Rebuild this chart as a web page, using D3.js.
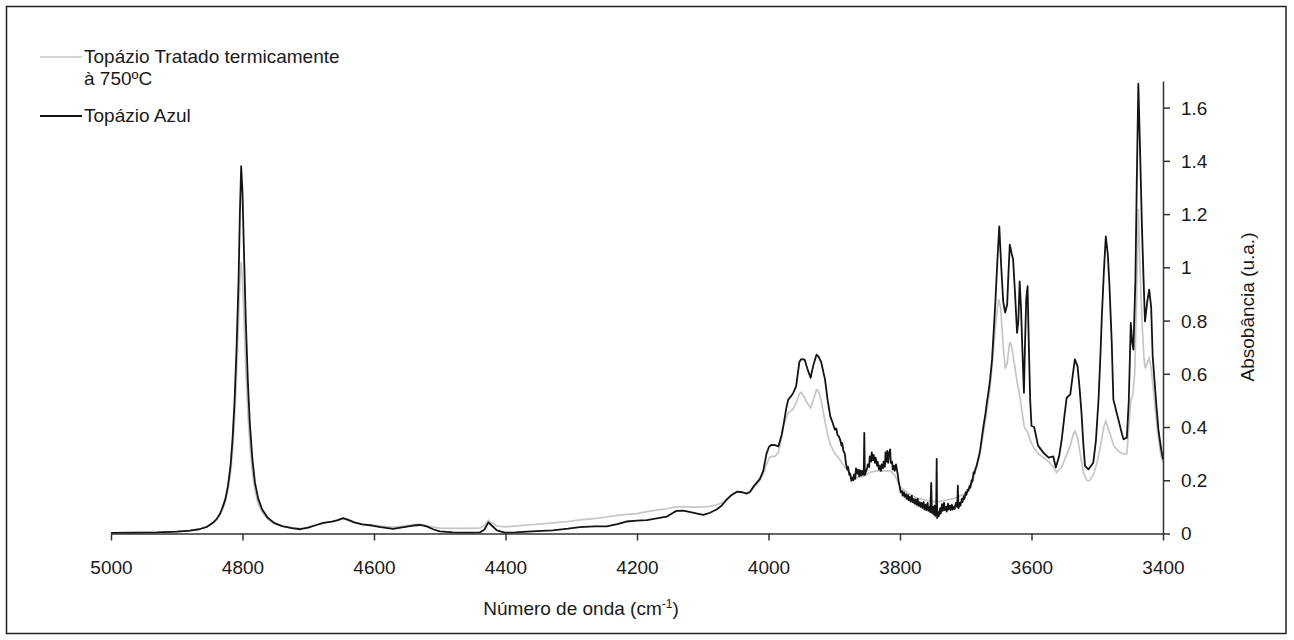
<!DOCTYPE html>
<html>
<head>
	<title>Topázio FTIR</title>
	<meta charset="utf-8">
	<script src="https://cdnjs.cloudflare.com/ajax/libs/d3/7.8.5/d3.min.js"></script>
	<style>
		body { margin: 0; background: #fff; }
		svg text { font-family: "Liberation Sans", Arial, sans-serif; fill: #1a1a1a; }
		.axis path, .axis line { stroke: #333; stroke-width: 1.5px; }
		.axis text { font-size: 19px; }
	</style>
</head>
<body>
	<div id="chartDiv"></div>
	<script>

		const xTicks = [5000, 4800, 4600, 4400, 4200, 4000, 3800, 3600, 3400];
		const yTicks = [0, 0.2, 0.4, 0.6, 0.8, 1, 1.2, 1.4, 1.6];

		const seriesNames = ['Topázio Tratado termicamente', 'Topázio Azul'];

		// [wavenumber, absorbance]
		const azul = [
			[5000,0.002],[4960,0.003],[4930,0.004],[4900,0.007],[4880,0.011],[4866,0.016],[4854,0.025],[4845,0.04],
			[4839,0.055],[4834,0.075],[4830,0.1],[4826,0.13],[4822,0.18],[4818,0.26],[4815,0.36],[4812,0.5],
			[4809,0.7],[4806,0.95],[4804,1.2],[4802,1.38],[4800,1.28],[4798,1.08],[4795,0.8],[4792,0.58],
			[4789,0.42],[4785,0.28],[4781,0.19],[4776,0.13],[4770,0.09],[4762,0.06],[4752,0.04],[4740,0.028],
			[4725,0.02],[4712,0.016],[4700,0.022],[4690,0.03],[4677,0.04],[4664,0.045],[4655,0.05],[4647,0.058],
			[4640,0.052],[4630,0.042],[4618,0.034],[4603,0.03],[4590,0.024],[4571,0.017],[4555,0.024],[4540,0.03],
			[4530,0.032],[4520,0.027],[4510,0.016],[4500,0.008],[4480,0.004],[4460,0.003],[4439,0.004],[4432,0.015],
			[4426,0.042],[4421,0.03],[4413,0.012],[4401,0.003],[4385,0.004],[4367,0.007],[4345,0.01],[4328,0.012],
			[4305,0.018],[4287,0.024],[4265,0.027],[4246,0.027],[4230,0.035],[4216,0.045],[4200,0.048],[4185,0.05],
			[4170,0.057],[4155,0.063],[4145,0.078],[4140,0.085],[4130,0.086],[4124,0.083],[4110,0.076],[4099,0.07],
			[4089,0.078],[4079,0.09],[4071,0.105],[4064,0.126],[4056,0.145],[4048,0.157],[4040,0.155],[4033,0.15],
			[4028,0.157],[4023,0.176],[4013,0.205],[4008,0.235],[4003,0.3],[3999,0.327],[3995,0.333],[3990,0.332],
			[3985,0.327],[3980,0.37],[3977,0.41],[3973,0.47],[3970,0.503],[3966,0.515],[3963,0.525],[3958,0.553],
			[3953,0.645],[3950,0.655],[3945,0.653],[3941,0.62],[3936,0.585],[3932,0.63],[3927,0.672],[3924,0.665],
			[3920,0.645],[3914,0.578],[3910,0.5],[3906,0.44],[3903,0.42],[3899,0.39],[3897,0.395],[3895,0.37],
			[3893,0.365],[3891,0.352],[3889,0.33],[3888,0.34],[3886,0.31],[3884,0.3],[3883,0.28],
			[3882,0.26],[3880,0.24],[3879,0.25],[3877,0.22],[3876,0.225],[3874,0.198],[3873,0.21],[3871,0.2],
			[3870,0.222],[3868,0.205],[3867,0.245],[3865,0.225],[3864,0.24],[3862,0.215],[3861,0.238],[3859,0.218],
			[3858,0.235],[3856,0.22],[3855,0.245],[3854.3,0.378],[3853.5,0.22],[3852,0.23],[3850,0.245],[3849,0.26],
			[3847,0.25],[3846,0.29],[3844,0.27],[3843,0.305],[3841,0.275],[3840,0.295],[3838,0.265],[3837,0.285],
			[3835,0.255],[3834,0.27],[3832,0.24],[3831,0.255],[3829,0.235],[3828,0.26],[3826,0.245],[3825,0.27],
			[3823,0.25],[3822,0.305],[3820.5,0.27],[3819.5,0.31],[3818,0.265],[3817,0.3],[3815,0.316],[3814,0.265],
			[3812,0.27],[3811,0.24],[3809,0.255],[3808,0.235],[3806,0.26],[3805,0.245],[3803,0.215],[3802,0.195],
			[3800,0.17],[3799,0.155],[3797,0.16],[3796,0.142],[3794,0.155],[3793,0.138],[3791,0.148],[3790,0.13],
			[3788,0.145],[3787,0.125],[3785,0.138],[3784,0.12],[3782,0.142],[3781,0.118],[3779,0.13],[3778,0.112],
			[3776,0.128],[3775,0.108],[3773,0.13],[3772,0.104],[3770,0.118],[3769,0.1],[3767,0.115],[3766,0.096],
			[3764,0.118],[3763,0.09],[3761,0.108],[3760,0.088],[3758,0.115],[3757,0.085],[3755,0.1],[3754,0.08],
			[3752.5,0.19],[3751.5,0.078],[3750,0.1],[3749,0.072],[3747.5,0.105],[3746.5,0.066],[3745,0.09],[3744.2,0.28],
			[3743.5,0.058],[3742,0.08],[3741,0.065],[3739,0.095],[3738,0.075],[3736,0.11],[3735,0.085],[3733,0.115],
			[3732,0.088],[3730,0.1],[3729,0.082],[3727,0.112],[3726,0.09],[3724,0.105],[3723,0.088],[3721,0.108],
			[3720,0.09],[3718,0.1],[3717,0.092],[3715,0.115],[3713,0.1],[3712,0.18],[3711,0.095],[3709,0.115],
			[3708,0.105],[3706,0.13],[3705,0.118],[3703,0.14],[3702,0.13],[3700,0.155],[3699,0.145],[3697,0.165],
			[3696,0.16],[3694,0.18],[3693,0.172],[3691,0.2],[3690,0.195],[3688,0.23],[3687,0.225],[3685,0.245],
			[3684,0.25],[3682,0.27],[3680,0.29],[3678,0.315],[3676,0.35],[3675,0.37],[3673,0.404],[3670,0.45],
			[3668,0.49],[3665,0.54],[3663,0.578],[3660,0.654],[3657,0.78],[3655,0.866],[3652,1.02],[3649,1.154],
			[3646,1.0],[3643,0.87],[3640,0.83],[3637,0.86],[3635,0.98],[3633,1.085],[3630,1.05],[3628,1.03],
			[3625,0.9],[3622,0.754],[3620,0.8],[3618,0.947],[3616,0.85],[3614,0.7],[3611.5,0.529],[3610,0.7],
			[3608,0.88],[3606,0.929],[3604,0.7],[3602,0.5],[3600,0.404],[3596,0.4],[3590,0.33],[3582,0.304],
			[3574,0.285],[3567,0.29],[3563,0.248],[3558,0.29],[3554,0.354],[3550,0.44],[3546.5,0.51],[3541,0.523],
			[3537,0.6],[3534,0.654],[3530,0.629],[3527,0.55],[3524,0.454],[3521,0.33],[3518.6,0.254],[3513.5,0.241],
			[3506,0.266],[3502,0.35],[3498,0.504],[3495,0.68],[3493,0.816],[3490,0.98],[3487,1.116],[3484,1.05],
			[3481.6,0.941],[3478,0.72],[3475.5,0.504],[3468,0.429],[3462,0.37],[3460,0.354],[3455,0.36],[3452,0.5],
			[3449,0.791],[3447,0.72],[3445,0.691],[3442,0.95],[3440,1.3],[3437.5,1.69],[3435,1.45],[3432,1.15],
			[3429.5,0.95],[3427.4,0.797],[3424,0.87],[3421,0.916],[3418,0.85],[3415.7,0.666],[3410,0.48],[3407,0.391],
			[3403,0.32],[3400,0.279]
		];

		const tratado = [
			[5000,0.002],[4960,0.003],[4930,0.004],[4900,0.007],[4880,0.011],[4866,0.016],[4854,0.025],[4845,0.04],
			[4839,0.055],[4834,0.072],[4830,0.095],[4826,0.12],[4822,0.165],[4818,0.23],[4815,0.31],[4812,0.43],
			[4809,0.6],[4806,0.8],[4804,0.95],[4802,1.02],[4800,0.95],[4798,0.82],[4795,0.62],[4792,0.46],
			[4789,0.34],[4785,0.23],[4781,0.16],[4776,0.11],[4770,0.08],[4762,0.055],[4752,0.038],[4740,0.028],
			[4725,0.022],[4712,0.018],[4700,0.024],[4690,0.031],[4677,0.04],[4664,0.045],[4655,0.05],[4647,0.056],
			[4640,0.05],[4630,0.042],[4618,0.035],[4603,0.032],[4590,0.028],[4571,0.024],[4555,0.028],[4540,0.033],
			[4530,0.035],[4520,0.03],[4510,0.024],[4500,0.02],[4480,0.019],[4460,0.019],[4439,0.02],[4432,0.03],
			[4426,0.05],[4421,0.04],[4413,0.028],[4401,0.025],[4385,0.028],[4367,0.032],[4345,0.036],[4328,0.04],
			[4305,0.045],[4287,0.051],[4265,0.056],[4246,0.062],[4230,0.068],[4216,0.072],[4200,0.075],[4185,0.082],
			[4170,0.088],[4155,0.093],[4140,0.1],[4124,0.1],[4110,0.099],[4099,0.1],[4089,0.102],[4079,0.108],
			[4071,0.115],[4064,0.128],[4056,0.145],[4048,0.157],[4040,0.155],[4033,0.15],[4028,0.155],[4023,0.17],
			[4013,0.2],[4008,0.225],[4003,0.26],[3999,0.283],[3995,0.29],[3990,0.29],[3985,0.304],[3980,0.36],
			[3977,0.41],[3973,0.435],[3970,0.453],[3963,0.466],[3958,0.49],[3953,0.525],[3950,0.53],[3945,0.51],
			[3941,0.49],[3936,0.472],[3932,0.5],[3927,0.54],[3924,0.535],[3920,0.5],[3914,0.42],[3910,0.37],
			[3906,0.335],[3899,0.3],[3891,0.275],[3881,0.24],[3873,0.215],[3865,0.21],[3855,0.215],[3845,0.23],
			[3835,0.235],[3825,0.235],[3815,0.235],[3808,0.22],[3800,0.175],[3790,0.155],[3780,0.14],[3770,0.13],
			[3760,0.125],[3750,0.12],[3740,0.12],[3730,0.125],[3720,0.13],[3710,0.14],[3700,0.15],[3690,0.19],
			[3680,0.28],[3673,0.38],[3668,0.46],[3663,0.55],[3658,0.68],[3654,0.8],[3650,0.88],[3647,0.85],
			[3643,0.7],[3640,0.62],[3637,0.64],[3633,0.72],[3630,0.7],[3625,0.62],[3622,0.57],[3618,0.52],
			[3614,0.45],[3611,0.4],[3606,0.38],[3602,0.35],[3596,0.32],[3590,0.3],[3582,0.285],[3574,0.27],
			[3567,0.25],[3562,0.23],[3554,0.25],[3546,0.3],[3541,0.33],[3537,0.37],[3534,0.385],[3530,0.36],
			[3526,0.3],[3521,0.23],[3516,0.2],[3512,0.198],[3506,0.22],[3500,0.27],[3495,0.33],[3490,0.4],
			[3487,0.423],[3484,0.4],[3480,0.37],[3475,0.33],[3468,0.31],[3460,0.298],[3455,0.3],[3452,0.4],
			[3449,0.5],[3446,0.52],[3443,0.6],[3440,0.9],[3437.5,1.22],[3435,1.0],[3432,0.8],[3429,0.66],
			[3427,0.62],[3424,0.64],[3421,0.66],[3418,0.62],[3415,0.55],[3410,0.42],[3406,0.34],[3403,0.29],
			[3400,0.266]
		];

		const width = 1294, height = 640;
		const plot = { left: 111, right: 1163, top: 81, bottom: 533.5 };

		const svgObj = d3.select('#chartDiv').append('svg')
			.attr('width', width)
			.attr('height', height);

		//outer frame
		svgObj.append('rect')
			.attr('x', 6.5).attr('y', 6.5)
			.attr('width', 1279.5).attr('height', 627)
			.attr('fill', 'none')
			.attr('stroke', '#222')
			.attr('stroke-width', 1.5);

		const xScale = d3.scaleLinear().domain([5000, 3400]).range([plot.left, plot.right]);
		const yScale = d3.scaleLinear().domain([0, 1.7]).range([plot.bottom, plot.top]);

		const line = d3.line()
			.x(d => xScale(d[0]))
			.y(d => yScale(d[1]));

		svgObj.append('path')
			.datum(tratado)
			.attr('d', line)
			.attr('fill', 'none')
			.attr('stroke', '#c6c6c6')
			.attr('stroke-width', 1.7);

		svgObj.append('path')
			.datum(azul)
			.attr('d', line)
			.attr('fill', 'none')
			.attr('stroke', '#141414')
			.attr('stroke-width', 1.8)
			.attr('stroke-linejoin', 'round');

		//x axis
		const xAxisG = svgObj.append('g')
			.attr('class', 'axis x')
			.attr('transform', `translate(0,${plot.bottom})`)
			.call(d3.axisBottom(xScale).tickValues(xTicks).tickSize(7).tickSizeOuter(0).tickFormat(d3.format('d')));
		xAxisG.selectAll('.tick text').attr('y', 40).attr('dy', 0);

		//y axis on the right
		const yAxisG = svgObj.append('g')
			.attr('class', 'axis y')
			.attr('transform', `translate(${plot.right},0)`)
			.call(d3.axisRight(yScale).tickValues(yTicks).tickSize(7).tickSizeOuter(0).tickFormat(d3.format('~g')));
		yAxisG.selectAll('.tick text').attr('x', 18).attr('dy', '0.34em');

		svgObj.selectAll('.axis .domain').attr('fill', 'none');

		//axis titles
		const xTitle = svgObj.append('text')
			.attr('x', 581).attr('y', 615)
			.attr('text-anchor', 'middle')
			.style('font-size', '19px');
		xTitle.append('tspan').text('Número de onda (cm');
		xTitle.append('tspan').attr('dy', -7).style('font-size', '12px').text('-1');
		xTitle.append('tspan').attr('dy', 7).text(')');

		svgObj.append('text')
			.attr('transform', 'translate(1254,307) rotate(-90)')
			.attr('text-anchor', 'middle')
			.style('font-size', '19px')
			.text('Absobância (u.a.)');

		//legend
		const legend = svgObj.append('g').attr('class', 'legend');
		legend.append('line')
			.attr('x1', 40).attr('x2', 82).attr('y1', 57).attr('y2', 57)
			.attr('stroke', '#c6c6c6').attr('stroke-width', 1.7);
		legend.append('text').attr('x', 84).attr('y', 63).style('font-size', '19px').text(seriesNames[0]);
		legend.append('text').attr('x', 84).attr('y', 85).style('font-size', '19px').text('à 750ºC');

		legend.append('line')
			.attr('x1', 40).attr('x2', 82).attr('y1', 116).attr('y2', 116)
			.attr('stroke', '#141414').attr('stroke-width', 1.8);
		legend.append('text').attr('x', 84).attr('y', 122).style('font-size', '19px').text(seriesNames[1]);

	</script>
</body>
</html>
